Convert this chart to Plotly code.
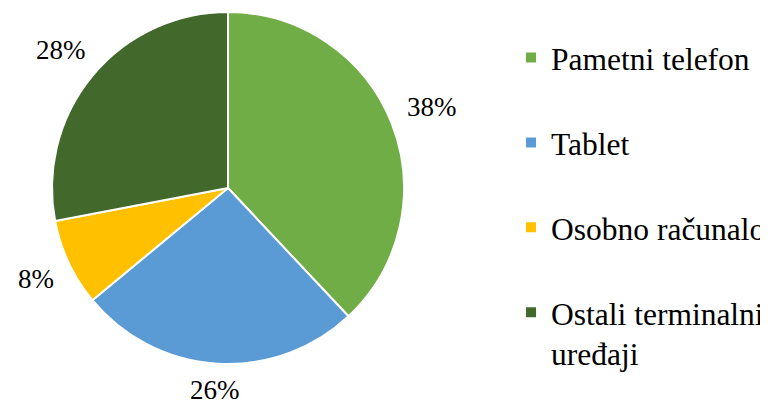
import math
import plotly.graph_objects as go

labels = ["Pametni telefon", "Tablet", "Osobno računalo", "Ostali terminalni uređaji"]
legend_lines = [["Pametni telefon", " "], ["Tablet", " "], ["Osobno računalo", " "], ["Ostali terminalni", "uređaji"]]
values = [38, 26, 8, 28]
colors = ["#70AD47", "#5B9BD5", "#FFC000", "#43682B"]

FONT = "Liberation Serif"
W, H = 768, 403
cx, cy, r = 220, 180, 176          # pie centre and radius in figure pixels
LABEL_SIZE = 27
LEGEND_SIZE = 31.5

legend_labels = ["<br>".join(ln) for ln in legend_lines]

fig = go.Figure(go.Pie(
    labels=legend_labels,
    values=values,
    sort=False,
    direction="clockwise",
    rotation=0,
    marker=dict(colors=colors, line=dict(color="white", width=2)),
    textinfo="none",
    textfont=dict(family=FONT, size=LEGEND_SIZE, color="black"),
    hovertext=labels,
    hoverinfo="text+percent",
    domain=dict(x=[(cx - r) / W, (cx + r) / W], y=[(H - cy - r) / H, (H - cy + r) / H]),
))

# percentage labels placed outside each slice, along the slice's mid-angle
total = sum(values)
cum = 0
for v in values:
    frac = v / total
    mid = 2 * math.pi * (cum + frac / 2)
    cum += frac
    txt = "%d%%" % round(frac * 100)
    dx, dy = math.sin(mid), -math.cos(mid)
    half_w = 0.5 * LABEL_SIZE * (0.5 * (len(txt) - 1) + 0.833)
    half_h = 8
    dist = r + 17 + abs(dx) * half_w + abs(dy) * half_h
    px, py = cx + dist * dx, cy + dist * dy
    fig.add_annotation(x=px / W, y=1 - py / H, xref="paper", yref="paper",
                       xanchor="center", yanchor="middle", showarrow=False,
                       text=txt, font=dict(family=FONT, size=LABEL_SIZE, color="black"))

fig.update_layout(
    width=W, height=H,
    margin=dict(l=0, r=0, t=0, b=0),
    paper_bgcolor="white",
    plot_bgcolor="white",
    font=dict(family=FONT, color="black"),
    showlegend=True,
    legend=dict(
        x=0.655, y=0.944, xanchor="left", yanchor="top",
        font=dict(family=FONT, size=LEGEND_SIZE, color="black"),
        valign="top",
        bgcolor="rgba(0,0,0,0)",
    ),
)

fig.write_html("out.html")
